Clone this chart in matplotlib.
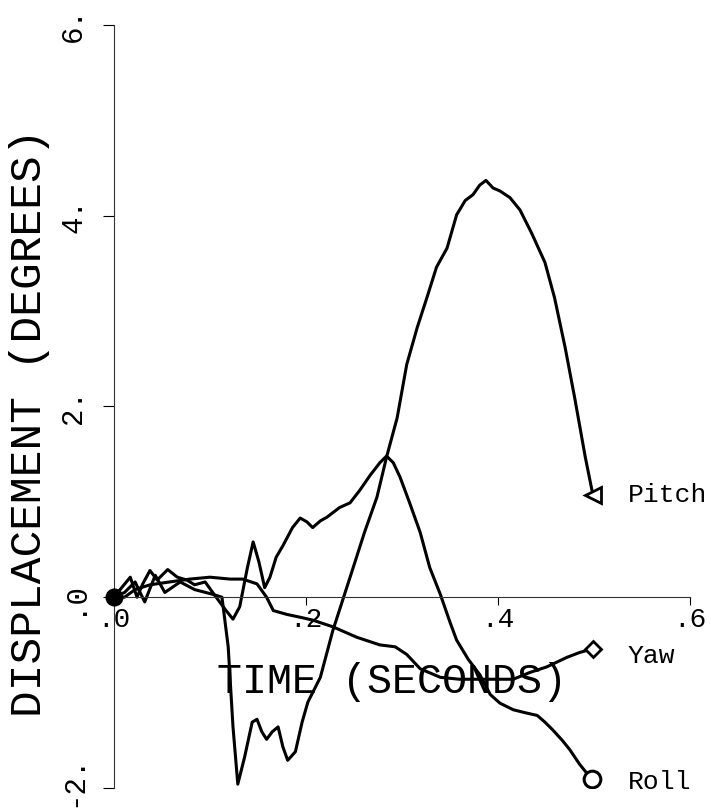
import matplotlib
matplotlib.use('Agg')
import matplotlib.pyplot as plt

# Valores (tiempo en segundos, desplazamiento en grados)
pitch_t = [0.0, 0.011, 0.022, 0.032, 0.043, 0.053, 0.069, 0.084, 0.103, 0.1125,
           0.119, 0.124, 0.129, 0.136, 0.144, 0.149, 0.154, 0.159, 0.165, 0.171,
           0.176, 0.181, 0.189, 0.196, 0.202, 0.215, 0.228, 0.246, 0.261, 0.274,
           0.284, 0.295, 0.305, 0.316, 0.326, 0.336, 0.347, 0.357, 0.366, 0.374,
           0.381, 0.3875, 0.395, 0.402, 0.4125, 0.423, 0.435, 0.449, 0.459, 0.470,
           0.480, 0.491, 0.499]
pitch = [0.0, 0.05, 0.16, -0.05, 0.23, 0.05, 0.16, 0.08, 0.03, 0.0,
         -0.52, -1.36, -1.96, -1.68, -1.31, -1.28, -1.41, -1.49, -1.41, -1.36,
         -1.57, -1.71, -1.62, -1.31, -1.10, -0.84, -0.35, 0.21, 0.68, 1.05,
         1.47, 1.88, 2.44, 2.83, 3.14, 3.46, 3.66, 4.01, 4.16, 4.22,
         4.32, 4.37, 4.29, 4.26, 4.19, 4.06, 3.82, 3.51, 3.14, 2.62,
         2.09, 1.47, 1.07]

roll_t = [0.0, 0.008, 0.017, 0.024, 0.030, 0.0375, 0.045, 0.056, 0.066, 0.076,
          0.084, 0.095, 0.105, 0.116, 0.124, 0.131, 0.139, 0.145, 0.151, 0.157,
          0.1625, 0.169, 0.176, 0.186, 0.194, 0.201, 0.207, 0.215, 0.222, 0.235,
          0.246, 0.256, 0.267, 0.277, 0.284, 0.291, 0.298, 0.308, 0.319, 0.329,
          0.340, 0.350, 0.357, 0.369, 0.381, 0.392, 0.402, 0.416, 0.428, 0.441,
          0.449, 0.457, 0.467, 0.475, 0.485, 0.493, 0.498]
roll = [0.0, 0.10, 0.21, 0.0, 0.14, 0.28, 0.18, 0.29, 0.21, 0.18,
        0.13, 0.16, 0.02, -0.13, -0.23, -0.10, 0.31, 0.58, 0.37, 0.10,
        0.21, 0.42, 0.54, 0.73, 0.83, 0.79, 0.73, 0.80, 0.84, 0.94,
        0.99, 1.12, 1.28, 1.41, 1.48, 1.41, 1.26, 0.99, 0.68, 0.31,
        0.03, -0.26, -0.45, -0.65, -0.81, -1.02, -1.11, -1.18, -1.21, -1.24,
        -1.31, -1.39, -1.50, -1.60, -1.75, -1.85, -1.91]

yaw_t = [0.0, 0.011, 0.022, 0.0375, 0.058, 0.079, 0.100, 0.121, 0.134, 0.149,
         0.159, 0.166, 0.180, 0.194, 0.207, 0.228, 0.253, 0.277, 0.293, 0.305,
         0.319, 0.340, 0.360, 0.381, 0.402, 0.416, 0.433, 0.451, 0.472, 0.485,
         0.499]
yaw = [0.0, 0.0, 0.08, 0.13, 0.16, 0.19, 0.21, 0.19, 0.19, 0.14,
       0.0, -0.14, -0.18, -0.21, -0.24, -0.31, -0.42, -0.50, -0.52, -0.60,
       -0.75, -0.84, -0.86, -0.86, -0.86, -0.86, -0.79, -0.73, -0.63, -0.58,
       -0.54]

yticks = [-2, 0, 2, 4, 6]
ytick_labels = ['-2.', '.0', '2.', '4.', '6.']
xticks = [0.0, 0.2, 0.4, 0.6]
xtick_labels = ['.0', '.2', '.4', '.6']

font = 'Liberation Mono'

fig = plt.figure(figsize=(7.11, 8.10), dpi=100)
ax = fig.add_axes([0.1603, 0.0272, 0.810, 0.942])

# Curvas con su marcador al final
ax.plot(pitch_t, pitch, color='black', lw=2.2)
ax.plot(roll_t, roll, color='black', lw=2.2)
ax.plot(yaw_t, yaw, color='black', lw=2.2)
ax.plot(pitch_t[-1], pitch[-1], marker='<', ms=11, mfc='white', mec='black', mew=2)
ax.plot(yaw_t[-1], yaw[-1], marker='D', ms=8, mfc='white', mec='black', mew=2)
ax.plot(roll_t[-1], roll[-1], marker='o', ms=12, mfc='white', mec='black', mew=2.2)
# Punto de inicio
ax.plot(0, 0, marker='o', ms=12, color='black', clip_on=False, zorder=5)

# Nombres de las curvas
ax.text(0.535, pitch[-1], 'Pitch', fontsize=19, family=font, va='center', clip_on=False)
ax.text(0.535, yaw[-1] - 0.08, 'Yaw', fontsize=19, family=font, va='center', clip_on=False)
ax.text(0.535, roll[-1] - 0.03, 'Roll', fontsize=19, family=font, va='center', clip_on=False)

# Ejes
ax.set_xlim(0, 0.6)
ax.set_ylim(-2, 6)
ax.spines['top'].set_visible(False)
ax.spines['right'].set_visible(False)
ax.spines['bottom'].set_position(('data', 0))
ax.spines['bottom'].set_linewidth(0.8)
ax.spines['left'].set_linewidth(0.8)
ax.spines['bottom'].set_color('#333333')
ax.spines['left'].set_color('#333333')

# Etiquetas del eje y giradas, escritas a mano para poder ajustarlas
ax.set_yticks(yticks)
ax.set_yticklabels([])
for v, s in zip(yticks, ytick_labels):
    nudge = 0.08 if v == yticks[0] else 0.0
    ax.text(-0.071, v + nudge, s, transform=ax.get_yaxis_transform(),
            rotation=90, ha='center', va='center', fontsize=21, family=font)
ax.set_xticks(xticks)
ax.set_xticklabels(xtick_labels, fontsize=20, family=font)
ax.tick_params(axis='y', direction='out', length=8, width=0.8)
ax.tick_params(axis='x', direction='out', length=6, width=0.8, pad=1)

ax.set_xlabel('TIME (SECONDS)', fontsize=30, family=font, va='center')
ax.xaxis.set_label_coords(0.483, 0.139)
ax.set_ylabel('DISPLACEMENT (DEGREES)', fontsize=32, family=font, va='center')
ax.yaxis.set_label_coords(-0.146, 0.478)

fig.savefig('out.png', dpi=100)
